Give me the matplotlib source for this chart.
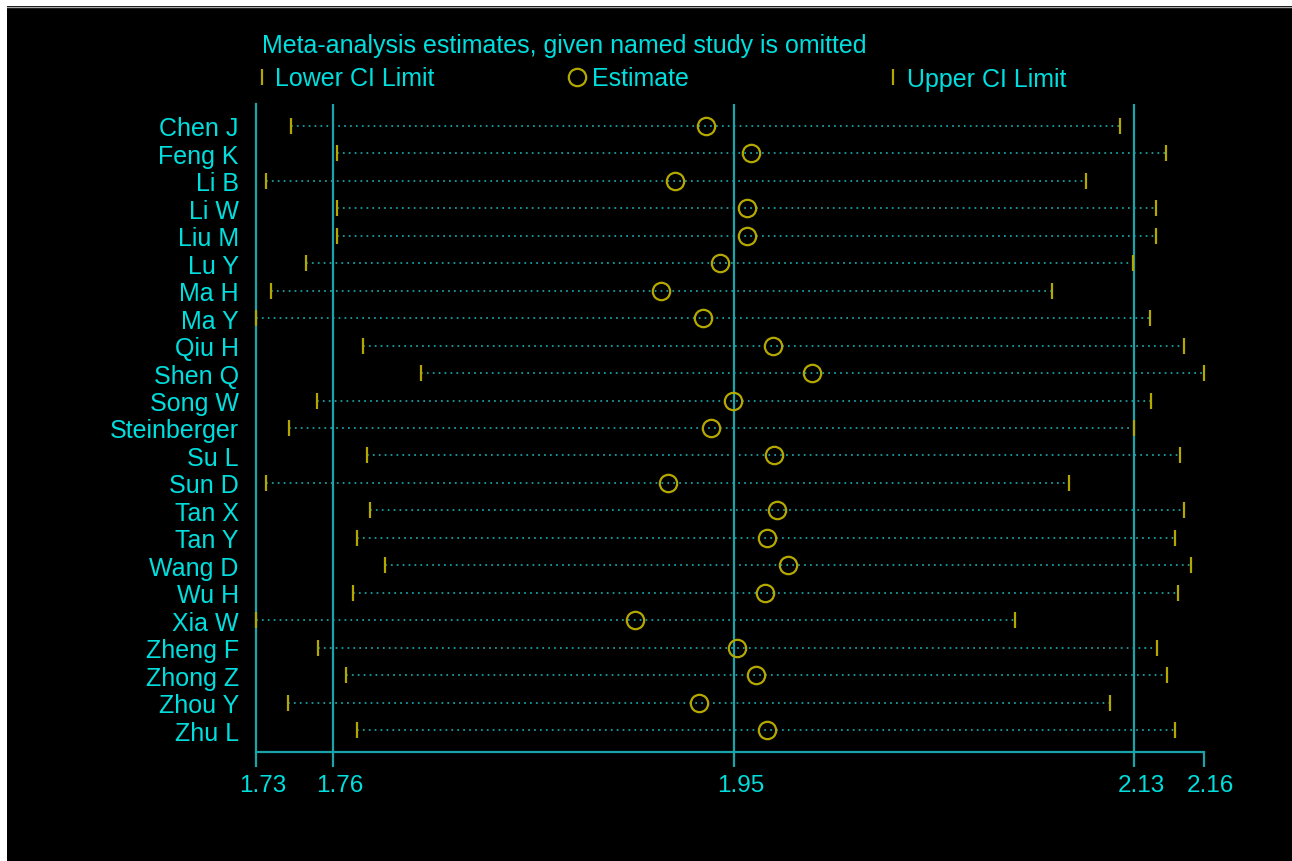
import matplotlib
matplotlib.use("Agg")
import matplotlib.pyplot as plt
import matplotlib.transforms as mtransforms
from matplotlib.lines import Line2D
from matplotlib.patches import Rectangle

# Leave-one-out meta-analysis: pooled estimate and 95% CI with each study omitted
studies = ["Chen J", "Feng K", "Li B", "Li W", "Liu M", "Lu Y", "Ma H", "Ma Y",
           "Qiu H", "Shen Q", "Song W", "Steinberger", "Su L", "Sun D", "Tan X",
           "Tan Y", "Wang D", "Wu H", "Xia W", "Zheng F", "Zhong Z", "Zhou Y", "Zhu L"]
lower = [1.7435, 1.7645, 1.7317, 1.7645, 1.7645, 1.7504, 1.7341, 1.7274,
         1.7763, 1.8030, 1.7551, 1.7423, 1.7784, 1.7320, 1.7797,
         1.7738, 1.7867, 1.7717, 1.7270, 1.7556, 1.7685, 1.7418, 1.7738]
estimate = [1.9341, 1.9550, 1.9201, 1.9529, 1.9529, 1.9406, 1.9136, 1.9330,
            1.9651, 1.9829, 1.9467, 1.9366, 1.9655, 1.9166, 1.9668,
            1.9621, 1.9720, 1.9615, 1.9017, 1.9486, 1.9573, 1.9308, 1.9621]
upper = [2.1245, 2.1456, 2.1088, 2.1410, 2.1410, 2.1306, 2.0932, 2.1385,
         2.1539, 2.1630, 2.1387, 2.1312, 2.1523, 2.1010, 2.1539,
         2.1500, 2.1573, 2.1511, 2.0764, 2.1416, 2.1461, 2.1200, 2.1500]
# combined estimate with all studies: lower CI, estimate, upper CI
overall = [1.7627, 1.9469, 2.1310]

title = "Meta-analysis estimates, given named study is omitted"
legend_labels = ["Lower CI Limit", "Estimate", "Upper CI Limit"]

CYAN = "#00dede"
TEAL = "#1aa3a8"
DOT = "#1aa6aa"
OLIVE = "#b4a800"
FONT = ["Liberation Sans", "DejaVu Sans"]

plt.rcParams["font.family"] = FONT

W, H = 1292, 862
fig = plt.figure(figsize=(W / 100, H / 100), dpi=100, facecolor="black")
fig.add_artist(Rectangle((0, 0), 7 / W, 1, transform=fig.transFigure,
                         facecolor="white", edgecolor="none", zorder=0))
fig.add_artist(Rectangle((0, 1 - 7 / H), 1, 7 / H, transform=fig.transFigure,
                         facecolor="white", edgecolor="none", zorder=0))
fig.add_artist(Line2D([7 / W, 1], [1 - 7.5 / H] * 2, transform=fig.transFigure,
                      color="#a8a8a8", lw=1))

ax = fig.add_axes([255.5 / W, 1 - 753 / H, 948 / W, 648 / H])
ax.set_facecolor("black")

n = len(studies)
ypos = list(range(1, n + 1))
xmin, xmax = min(lower), max(upper)
ax.set_xlim(xmin, xmax)
ax.set_ylim(n + 0.8, 0.2)

for v in overall:
    ax.axvline(v, color=TEAL, lw=1.6, zorder=1)

ax.hlines(ypos, lower, upper, colors=DOT, linestyles=(0, (1, 2.4)), lw=1.25, zorder=2)
ax.plot(lower, ypos, ls="none", marker="|", ms=12, mew=1.6, color=OLIVE,
        zorder=3, clip_on=False)
ax.plot(upper, ypos, ls="none", marker="|", ms=12, mew=1.6, color=OLIVE,
        zorder=3, clip_on=False)
ax.plot(estimate, ypos, ls="none", marker="o", ms=12.5, mfc="none", mec=OLIVE,
        mew=1.6, zorder=4, clip_on=False)

for side in ("top", "right"):
    ax.spines[side].set_visible(False)
for side in ("left", "bottom"):
    ax.spines[side].set_color(TEAL)
    ax.spines[side].set_linewidth(1.6)

xticks = [xmin] + overall + [xmax]
ax.set_xticks(xticks)
ax.set_xticklabels([f"{v:.2f}" for v in xticks])
ax.set_yticks(ypos)
ax.set_yticklabels(studies)
ax.tick_params(axis="x", direction="out", length=11, width=1.6, color=TEAL,
               labelcolor=CYAN, labelsize=17.5, pad=5)
ax.tick_params(axis="y", length=0, labelcolor=CYAN, labelsize=18, pad=12)

# axis numbers sit a little right of their ticks
shift = mtransforms.ScaledTranslation(7 / 100, 0, fig.dpi_scale_trans)
for lab in ax.get_xticklabels():
    lab.set_transform(lab.get_transform() + shift)

# header and key
fig.text(262 / W, 1 - 46 / H, title, color=CYAN, fontsize=18, ha="left", va="center")
key_y = 1 - 78 / H
key = [(262, 275, "|"), (577, 592, "o"), (893, 907, "|")]
for (mx, tx, mk), lab in zip(key, legend_labels):
    if mk == "o":
        fig.add_artist(Line2D([mx / W], [key_y], transform=fig.transFigure, ls="none",
                              marker="o", ms=12.5, mfc="none", mec=OLIVE, mew=1.6))
    else:
        fig.add_artist(Line2D([mx / W], [key_y], transform=fig.transFigure, ls="none",
                              marker="|", ms=12, mew=1.6, color=OLIVE))
    fig.text(tx / W, key_y - 1.5 / H, lab, color=CYAN, fontsize=18, ha="left", va="center")

fig.savefig("out.png", dpi=100, facecolor=fig.get_facecolor())
